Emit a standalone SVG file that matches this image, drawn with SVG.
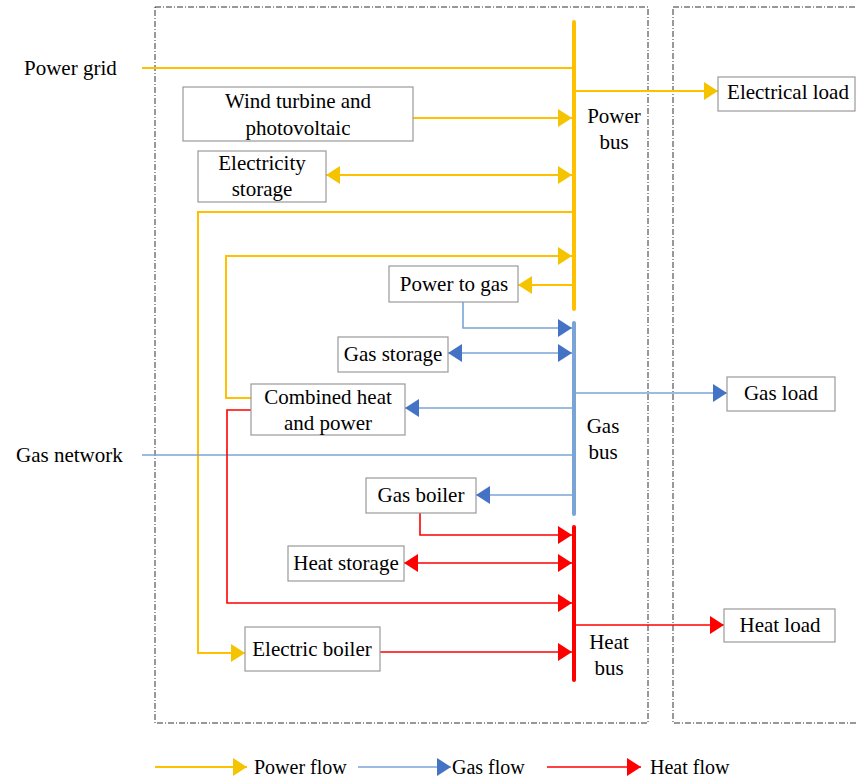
<svg xmlns="http://www.w3.org/2000/svg" width="857" height="780" viewBox="0 0 857 780">
<defs>
<marker id="ay" markerUnits="userSpaceOnUse" markerWidth="14" markerHeight="18" refX="14" refY="9" orient="auto-start-reverse"><path d="M0,0 L14,9 L0,18 z" fill="#F5C400"/></marker>
<marker id="ab" markerUnits="userSpaceOnUse" markerWidth="14" markerHeight="18" refX="14" refY="9" orient="auto-start-reverse"><path d="M0,0 L14,9 L0,18 z" fill="#4472C4"/></marker>
<marker id="ar" markerUnits="userSpaceOnUse" markerWidth="14" markerHeight="18" refX="14" refY="9" orient="auto-start-reverse"><path d="M0,0 L14,9 L0,18 z" fill="#FF0000"/></marker>
</defs>
<style>
text{font-family:"Liberation Serif","Times New Roman",serif;font-size:21px;fill:#000}
.lg{font-size:20px}
.box{fill:#fff;stroke:#999;stroke-width:1.2}
.frame{fill:none;stroke:#333;stroke-width:1;stroke-dasharray:6,2,1,2}
.p{fill:none;stroke:#FFC000;stroke-width:2}
.g{fill:none;stroke:#7BA4D6;stroke-width:1.6}
.h{fill:none;stroke:#FF0000;stroke-width:1.6}
.bus{stroke-width:4;stroke-linecap:round}
</style>
<rect fill="#fff" width="857" height="780"/>
<rect class="frame" x="155" y="7" width="493" height="716"/>
<rect class="frame" x="673" y="7" width="190" height="716"/>
<g id="connectors">
<line class="p bus" x1="574" y1="22" x2="574" y2="309"/>
<line class="g bus" x1="574" y1="323" x2="574" y2="514"/>
<line class="h bus" x1="574" y1="527" x2="574" y2="680"/>
<line class="p" x1="142" y1="68" x2="573" y2="68"/>
<line class="p" x1="575" y1="91" x2="718" y2="91" marker-end="url(#ay)"/>
<line class="p" x1="413" y1="118" x2="572" y2="118" marker-end="url(#ay)"/>
<line class="p" x1="326" y1="175" x2="572" y2="175" marker-start="url(#ay)" marker-end="url(#ay)"/>
<polyline class="p" points="573,212 198,212 198,653 245,653" marker-end="url(#ay)"/>
<polyline class="p" points="251,398 226,398 226,256 572,256" marker-end="url(#ay)"/>
<line class="p" x1="573" y1="285" x2="518" y2="285" marker-end="url(#ay)"/>
<polyline class="g" points="463,302 463,328 572,328" marker-end="url(#ab)"/>
<line class="g" x1="448" y1="353" x2="572" y2="353" marker-start="url(#ab)" marker-end="url(#ab)"/>
<line class="g" x1="575" y1="393" x2="727" y2="393" marker-end="url(#ab)"/>
<line class="g" x1="573" y1="408" x2="405" y2="408" marker-end="url(#ab)"/>
<line class="g" x1="142" y1="455" x2="573" y2="455"/>
<line class="g" x1="573" y1="495" x2="476" y2="495" marker-end="url(#ab)"/>
<polyline class="h" points="420,513 420,535 572,535" marker-end="url(#ar)"/>
<line class="h" x1="404" y1="563" x2="572" y2="563" marker-start="url(#ar)" marker-end="url(#ar)"/>
<polyline class="h" points="251,410 227,410 227,603 572,603" marker-end="url(#ar)"/>
<line class="h" x1="575" y1="625" x2="724" y2="625" marker-end="url(#ar)"/>
<line class="h" x1="380" y1="652" x2="572" y2="652" marker-end="url(#ar)"/>
</g>
<g id="power-grid"><text x="24" y="75">Power grid</text></g>
<g id="gas-network"><text x="16" y="462">Gas network</text></g>
<g id="power-bus-label"><text x="614" y="123" text-anchor="middle">Power</text><text x="614" y="149" text-anchor="middle">bus</text></g>
<g id="gas-bus-label"><text x="603" y="433" text-anchor="middle">Gas</text><text x="603" y="459" text-anchor="middle">bus</text></g>
<g id="heat-bus-label"><text x="609" y="649" text-anchor="middle">Heat</text><text x="609" y="675" text-anchor="middle">bus</text></g>
<g id="wind"><rect class="box" x="183" y="87" width="230" height="54"/><text x="298" y="108" text-anchor="middle">Wind turbine and</text><text x="298" y="135" text-anchor="middle">photovoltaic</text></g>
<g id="elec-storage"><rect class="box" x="198" y="151" width="128" height="51"/><text x="262" y="170" text-anchor="middle">Electricity</text><text x="262" y="196" text-anchor="middle">storage</text></g>
<g id="elec-load"><rect class="box" x="718" y="77" width="137" height="34"/><text x="788" y="99" text-anchor="middle">Electrical load</text></g>
<g id="p2g"><rect class="box" x="389" y="266" width="129" height="36"/><text x="454" y="291" text-anchor="middle">Power to gas</text></g>
<g id="gas-storage"><rect class="box" x="338" y="337" width="110" height="35"/><text x="393" y="361" text-anchor="middle">Gas storage</text></g>
<g id="gas-load"><rect class="box" x="727" y="377" width="108" height="34"/><text x="781" y="400" text-anchor="middle">Gas load</text></g>
<g id="chp"><rect class="box" x="251" y="384" width="154" height="51"/><text x="328" y="404" text-anchor="middle">Combined heat</text><text x="328" y="430" text-anchor="middle">and power</text></g>
<g id="gas-boiler"><rect class="box" x="366" y="478" width="110" height="35"/><text x="421" y="502" text-anchor="middle">Gas boiler</text></g>
<g id="heat-storage"><rect class="box" x="288" y="546" width="116" height="35"/><text x="346" y="570" text-anchor="middle">Heat storage</text></g>
<g id="heat-load"><rect class="box" x="724" y="609" width="111" height="33"/><text x="780" y="632" text-anchor="middle">Heat load</text></g>
<g id="elec-boiler"><rect class="box" x="245" y="627" width="135" height="44"/><text x="312" y="656" text-anchor="middle">Electric boiler</text></g>
<g id="legend">
<line class="p" x1="155" y1="767" x2="247" y2="767" marker-end="url(#ay)"/>
<text class="lg" x="254" y="774">Power flow</text>
<line class="g" x1="358" y1="767" x2="451" y2="767" marker-end="url(#ab)"/>
<text class="lg" x="452" y="774">Gas flow</text>
<line class="h" x1="547" y1="767" x2="641" y2="767" marker-end="url(#ar)"/>
<text class="lg" x="650" y="774">Heat flow</text>
</g>
</svg>
